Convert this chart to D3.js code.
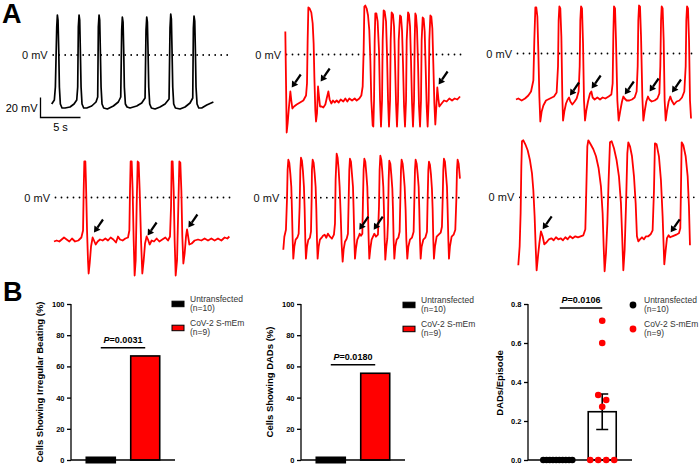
<!DOCTYPE html>
<html><head><meta charset="utf-8">
<script src="https://cdn.jsdelivr.net/npm/d3@7"></script>
<style>
body{margin:0;background:#fff}
svg{display:block;font-family:"Liberation Sans",Arial,Helvetica,sans-serif}
</style>
</head><body>
<svg width="700" height="468"></svg>
<script>
// ---------------- DATA ----------------
// Panel A traces: [time (s), membrane potential (mV)]
const traceControl = [[0,-49],[0.33,-45],[0.46,-32],[0.63,28],[0.71,40],[0.79,35],[0.88,5],[0.96,-32],[1.08,-49],[1.29,-53],[1.67,-53],[2.29,-52],[2.79,-49],[3.13,-45],[3.25,-32],[3.33,28],[3.42,40],[3.5,35],[3.58,5],[3.67,-32],[3.79,-49],[4.0,-53],[4.38,-53],[5.0,-51],[5.54,-47],[5.75,-42],[5.83,28],[5.92,40],[6.0,35],[6.08,5],[6.17,-32],[6.29,-49],[6.5,-53],[6.96,-54],[7.71,-51],[8.33,-47],[8.63,-42],[8.75,25],[8.83,38],[8.92,33],[9.0,5],[9.08,-32],[9.21,-49],[9.42,-52],[9.79,-53],[10.63,-51],[11.25,-48],[11.67,-43],[11.79,25],[11.88,38],[11.96,33],[12.04,5],[12.13,-32],[12.25,-49],[12.46,-53],[12.92,-54],[13.54,-52],[14.17,-49],[14.67,-44],[14.79,27],[14.88,41],[14.96,36],[15.04,5],[15.13,-32],[15.25,-49],[15.46,-53],[16.04,-54],[16.67,-52],[17.29,-48],[17.63,-43],[17.71,27],[17.79,39],[17.88,34],[17.96,5],[18.04,-32],[18.17,-49],[18.38,-53],[18.75,-53],[19.38,-50],[20.21,-47]];

const traceCov1 = [[0.04,23],[0.13,-29],[0.21,-78],[0.33,-69],[0.5,-52],[0.67,-37],[0.79,-46],[0.92,-54],[1.13,-52],[1.46,-50],[1.88,-48],[2.29,-46],[2.63,-41],[2.75,-29],[2.83,14],[2.92,47],[3.08,46],[3.29,42],[3.46,31],[3.58,11],[3.67,-22],[3.79,-56],[3.88,-67],[4.0,-59],[4.13,-32],[4.25,-42],[4.38,-52],[4.58,-52],[4.79,-53],[5.04,-50],[5.21,-44],[5.42,-37],[5.58,-45],[5.79,-49],[6.0,-46],[6.21,-48],[6.46,-46],[6.71,-48],[6.96,-45],[7.29,-47],[7.54,-44],[7.79,-47],[8.04,-44],[8.38,-46],[8.71,-44],[8.96,-46],[9.29,-44],[9.54,-41],[9.71,-32],[9.83,4],[9.92,48],[10.04,49],[10.21,46],[10.38,39],[10.54,24],[10.67,-6],[10.79,-46],[10.96,-71],[11.04,-72],[11.13,-46],[11.21,14],[11.29,41],[11.42,41],[11.58,33],[11.75,4],[11.88,-46],[12.0,-72],[12.13,-46],[12.21,14],[12.33,44],[12.46,43],[12.63,33],[12.75,1],[12.88,-46],[13.0,-72],[13.13,-46],[13.21,14],[13.33,42],[13.5,40],[13.63,28],[13.75,-6],[13.88,-49],[14.0,-72],[14.13,-46],[14.21,14],[14.38,39],[14.5,38],[14.63,24],[14.75,-9],[14.88,-52],[15.0,-72],[15.13,-46],[15.21,14],[15.38,42],[15.5,40],[15.63,28],[15.75,-6],[15.88,-49],[16.0,-72],[16.13,-46],[16.21,14],[16.29,41],[16.38,39],[16.5,26],[16.63,-9],[16.75,-52],[16.88,-72],[17.0,-46],[17.08,14],[17.21,37],[17.33,36],[17.46,23],[17.58,-12],[17.71,-52],[17.83,-72],[17.96,-46],[18.04,14],[18.17,39],[18.29,38],[18.42,26],[18.54,-9],[18.67,-49],[18.79,-70],[18.92,-52],[19.04,-33],[19.17,-44],[19.29,-52],[19.58,-49],[19.88,-46],[20.21,-47],[20.54,-44],[20.88,-46],[21.21,-44],[21.54,-45],[21.88,-42]];

const traceCov2 = [[0,-46],[0.29,-45],[0.71,-47],[1.13,-45],[1.54,-42],[1.88,-38],[2.17,-27],[2.29,13],[2.42,46],[2.54,46],[2.67,37],[2.79,3],[2.92,-43],[3.04,-68],[3.21,-58],[3.42,-52],[3.75,-47],[4.25,-45],[4.75,-43],[5.08,-39],[5.25,-13],[5.33,33],[5.42,47],[5.54,45],[5.67,17],[5.79,-43],[5.88,-67],[6.04,-58],[6.25,-50],[6.46,-46],[6.63,-44],[6.79,-48],[7.04,-51],[7.33,-48],[7.58,-45],[7.83,-38],[7.96,-13],[8.04,33],[8.13,47],[8.25,45],[8.38,10],[8.5,-47],[8.63,-67],[8.79,-57],[9.0,-48],[9.25,-40],[9.42,-38],[9.58,-44],[9.83,-46],[10.17,-44],[10.5,-46],[10.83,-44],[11.17,-45],[11.58,-43],[11.92,-41],[12.08,-30],[12.17,20],[12.25,47],[12.38,45],[12.5,13],[12.67,-47],[12.83,-67],[13.04,-57],[13.25,-48],[13.42,-43],[13.58,-45],[13.83,-47],[14.17,-47],[14.5,-46],[14.83,-44],[15.08,-38],[15.21,-13],[15.29,33],[15.38,48],[15.5,47],[15.63,17],[15.79,-43],[15.92,-67],[16.08,-58],[16.29,-48],[16.5,-43],[16.67,-46],[16.96,-48],[17.33,-47],[17.67,-45],[17.92,-40],[18.04,-13],[18.13,33],[18.21,47],[18.33,45],[18.46,13],[18.58,-47],[18.71,-67],[18.88,-57],[19.08,-48],[19.29,-43],[19.46,-47],[19.75,-51],[20.08,-48],[20.42,-47],[20.75,-44],[21.04,-38],[21.21,-13],[21.29,33],[21.38,47],[21.5,45],[21.63,13],[21.75,-47],[21.88,-65]];

const traceCov3 = [[0,-44],[0.33,-43],[0.67,-44],[0.96,-42],[1.25,-40],[1.58,-42],[1.92,-44],[2.25,-41],[2.63,-44],[3.04,-43],[3.42,-40],[3.63,-33],[3.71,7],[3.79,36],[3.92,36],[4.0,14],[4.13,-33],[4.25,-63],[4.33,-76],[4.46,-66],[4.63,-49],[4.83,-40],[5.0,-43],[5.21,-47],[5.46,-44],[5.75,-42],[6.08,-43],[6.42,-41],[6.75,-43],[7.08,-40],[7.42,-42],[7.75,-45],[8.0,-39],[8.25,-42],[8.58,-43],[8.92,-41],[9.25,-40],[9.42,-33],[9.5,7],[9.58,36],[9.71,36],[9.83,7],[9.96,-43],[10.08,-78],[10.21,-63],[10.33,-9],[10.46,36],[10.58,35],[10.71,7],[10.88,-43],[11.04,-76],[11.21,-63],[11.38,-46],[11.58,-39],[11.75,-42],[11.96,-47],[12.21,-43],[12.5,-44],[12.83,-41],[13.17,-44],[13.54,-42],[13.92,-40],[14.25,-43],[14.5,-39],[14.63,-9],[14.71,36],[14.83,36],[14.96,7],[15.08,-43],[15.21,-78],[15.38,-63],[15.54,-9],[15.67,36],[15.79,35],[15.92,7],[16.04,-39],[16.17,-66],[16.33,-56],[16.5,-39],[16.63,-32],[16.75,-38],[16.92,-47],[17.21,-46],[17.58,-43],[18.0,-42],[18.42,-43],[18.83,-41],[19.25,-43],[19.67,-41],[20.08,-43],[20.5,-41],[20.92,-43],[21.33,-40],[21.67,-41],[21.92,-39]];

const traceCov4 = [[0,-52],[0.13,-39],[0.33,-32],[0.46,-2],[0.54,28],[0.63,38],[0.75,35],[0.88,24],[1.0,11],[1.08,-12],[1.17,-42],[1.25,-61],[1.38,-49],[1.54,-42],[1.75,-40],[1.92,-36],[2.04,-9],[2.13,28],[2.21,40],[2.33,37],[2.46,26],[2.58,11],[2.67,-12],[2.75,-42],[2.83,-61],[2.96,-49],[3.13,-42],[3.33,-40],[3.46,-34],[3.54,-2],[3.58,28],[3.67,38],[3.79,35],[3.92,24],[4.04,11],[4.13,-12],[4.21,-42],[4.29,-61],[4.42,-49],[4.58,-42],[4.79,-40],[4.96,-38],[5.17,-37],[5.38,-40],[5.58,-36],[5.83,-39],[6.08,-41],[6.33,-37],[6.46,-26],[6.54,18],[6.67,44],[6.79,40],[6.92,28],[7.04,11],[7.17,-16],[7.29,-46],[7.42,-64],[7.54,-52],[7.71,-44],[7.92,-41],[8.08,-36],[8.17,-2],[8.25,28],[8.33,39],[8.46,36],[8.58,24],[8.71,11],[8.79,-12],[8.88,-42],[8.96,-61],[9.08,-51],[9.25,-42],[9.42,-39],[9.54,-36],[9.71,-38],[9.88,-36],[9.96,-2],[10.04,28],[10.13,39],[10.25,36],[10.38,24],[10.5,11],[10.58,-12],[10.67,-42],[10.75,-61],[10.88,-51],[11.04,-42],[11.21,-39],[11.38,-36],[11.58,-39],[11.83,-37],[11.96,-9],[12.04,28],[12.13,42],[12.25,38],[12.38,26],[12.5,11],[12.58,-12],[12.67,-42],[12.75,-62],[12.88,-49],[13.0,-41],[13.08,-26],[13.17,18],[13.25,37],[13.38,34],[13.5,23],[13.63,9],[13.71,-12],[13.79,-42],[13.88,-61],[14.0,-49],[14.17,-42],[14.38,-40],[14.54,-34],[14.63,-2],[14.71,28],[14.79,38],[14.92,34],[15.04,24],[15.17,11],[15.29,-12],[15.38,-42],[15.5,-61],[15.63,-49],[15.83,-42],[16.08,-40],[16.29,-34],[16.38,-2],[16.46,28],[16.54,38],[16.67,34],[16.79,24],[16.92,11],[17.0,-12],[17.08,-42],[17.17,-61],[17.29,-49],[17.5,-42],[17.75,-40],[17.96,-34],[18.04,-2],[18.13,28],[18.21,36],[18.33,33],[18.46,23],[18.58,9],[18.67,-12],[18.75,-42],[18.83,-61],[18.96,-49],[19.17,-39],[19.42,-37],[19.67,-35],[19.83,-29],[19.92,-2],[20.0,28],[20.08,39],[20.21,36],[20.33,24],[20.46,11],[20.54,-12],[20.63,-42],[20.71,-61],[20.83,-49],[21.04,-39],[21.29,-37],[21.5,-32],[21.63,-2],[21.71,28],[21.79,38],[21.92,34],[22.08,19]];

const traceCov5 = [[0,-68],[0.17,-49],[0.29,-16],[0.38,31],[0.46,56],[0.63,57],[0.88,53],[1.17,47],[1.46,37],[1.71,24],[1.88,7],[2.04,-19],[2.17,-49],[2.29,-73],[2.46,-59],[2.63,-46],[2.83,-34],[3.04,-39],[3.25,-47],[3.54,-45],[3.83,-42],[4.13,-41],[4.42,-43],[4.71,-40],[5.0,-42],[5.29,-41],[5.58,-43],[5.88,-40],[6.17,-42],[6.46,-39],[6.79,-41],[7.13,-39],[7.46,-40],[7.79,-39],[8.13,-38],[8.38,-32],[8.5,7],[8.63,51],[8.75,57],[9.04,53],[9.38,48],[9.71,41],[10.04,29],[10.33,11],[10.54,-16],[10.67,-49],[10.79,-74],[10.96,-56],[11.13,-26],[11.29,17],[11.46,55],[11.67,56],[11.96,49],[12.29,37],[12.58,21],[12.83,-6],[13.0,-43],[13.13,-73],[13.29,-53],[13.46,-9],[13.63,44],[13.75,55],[13.96,51],[14.21,41],[14.46,21],[14.67,-6],[14.83,-39],[15.0,-44],[15.21,-42],[15.46,-40],[15.71,-42],[15.96,-39],[16.25,-39],[16.54,-37],[16.79,-33],[16.96,7],[17.08,54],[17.29,53],[17.58,41],[17.83,17],[18.04,-19],[18.17,-49],[18.25,-67],[18.42,-53],[18.58,-41],[18.79,-38],[19.0,-40],[19.25,-39],[19.54,-38],[19.83,-37],[20.08,-36],[20.25,-31],[20.33,7],[20.42,55],[20.63,52],[20.92,41],[21.17,21],[21.33,-9],[21.46,-48]];

// DAD arrow targets [time (s), mV]
const dadArrowsCov1 = [[0.84,-33],[4.46,-27],[19.2,-30]];
const dadArrowsCov2 = [[6.75,-42],[9.46,-35],[13.6,-41],[16.7,-38],[19.5,-39]];
const dadArrowsCov3 = [[5.0,-35],[11.7,-38],[16.8,-30]];
const dadArrowsCov4 = [[9.5,-32],[11.3,-32]];
const dadArrowsCov5 = [[3.05,-32],[19.05,-35]];

// Panel B
const groups = ["Untransfected", "CoV-2 S-mEm"];
const groupN = ["(n=10)", "(n=9)"];
const groupColors = ["#000000", "#ff0000"];
const irregularBeatingPct = [0, 66.7];
const dadCellsPct = [0, 55.6];
const dadsPerEpisodeUntransfected = [0,0,0,0,0,0,0,0,0,0];
const dadsPerEpisodeCov = [0,0,0,0,0.273,0.308,0.333,0.6,0.714];
const pValues = ["0.0031", "0.0180", "0.0106"];
const pctTicks = [0,20,40,60,80,100];
const ratioTicks = [0,0.2,0.4,0.6,0.8];

// ---------------- DRAW ----------------
const svg = d3.select("svg");
const PX_PER_S = 8, PX_PER_MV = 1;

svg.append("text").attr("x",2).attr("y",23).attr("font-size",27).attr("font-weight","bold").text("A");
svg.append("text").attr("x",3).attr("y",301).attr("font-size",27).attr("font-weight","bold").text("B");

const traces = [
  {data: traceControl, color:"#000", left:51.7, zero:55,   arrows:[]},
  {data: traceCov1, color:"#ff0000", left:285,   zero:54.5, arrows:dadArrowsCov1},
  {data: traceCov2, color:"#ff0000", left:516,   zero:53.5, arrows:dadArrowsCov2},
  {data: traceCov3, color:"#ff0000", left:54,    zero:197.5, arrows:dadArrowsCov3},
  {data: traceCov4, color:"#ff0000", left:283.3, zero:197.7, arrows:dadArrowsCov4},
  {data: traceCov5, color:"#ff0000", left:518.3, zero:197.3, arrows:dadArrowsCov5}
];

traces.forEach((T, i) => {
  const g = svg.append("g");
  const x = d3.scaleLinear().domain([0,1]).range([T.left, T.left + PX_PER_S]);
  const y = d3.scaleLinear().domain([0,1]).range([T.zero, T.zero - PX_PER_MV]);
  g.append("line")
    .attr("x1", T.left + 1.5).attr("x2", Math.min(T.left + 178, 700))
    .attr("y1", y(0)).attr("y2", y(0))
    .attr("stroke","#000").attr("stroke-width",1.8)
    .attr("stroke-linecap","round").attr("stroke-dasharray","0,6");
  g.append("text").attr("x", T.left - 4).attr("y", y(0) + 4)
    .attr("text-anchor","end").attr("font-size",11).attr("fill","#111").text("0 mV");
  const line = d3.line().x(d => x(d[0])).y(d => y(d[1]));
  g.append("path").attr("d", line(T.data)).attr("fill","none")
    .attr("stroke", T.color).attr("stroke-width", i === 0 ? 1.7 : 1.8)
    .attr("stroke-linejoin","round");
  T.arrows.forEach(a => {
    const hx = x(a[0]), hy = y(a[1]);
    const tx = hx + 9, ty = hy - 13;
    const len = Math.hypot(hx - tx, hy - ty);
    const ux = (hx - tx)/len, uy = (hy - ty)/len;
    const px = -uy, py = ux;
    const bx = hx - ux*6, by = hy - uy*6;
    g.append("line").attr("x1",tx).attr("y1",ty).attr("x2",bx).attr("y2",by)
      .attr("stroke","#000").attr("stroke-width",2.2);
    g.append("path").attr("d", `M${hx},${hy}L${bx+px*3.7},${by+py*3.7}L${bx-px*3.7},${by-py*3.7}Z`)
      .attr("fill","#000");
  });
  if (i === 0) {
    const ox = 40.5, oy = 117.5;
    const w = x(5) - x(0), h = y(0) - y(20);
    g.append("path").attr("d", `M${ox},${oy - h}V${oy}H${ox + w}`)
      .attr("fill","none").attr("stroke","#000").attr("stroke-width",1.3);
    g.append("text").attr("x", ox - 3).attr("y", oy - h/2 + 4).attr("text-anchor","end")
      .attr("font-size",11).text("20 mV");
    g.append("text").attr("x", ox + w/2).attr("y", oy + 13).attr("text-anchor","middle")
      .attr("font-size",11).text("5 s");
  }
});

function drawYAxis(g, y, major, minor, fmt, left) {
  const ax = g.append("g").attr("transform",`translate(${left},0)`);
  ax.call(d3.axisLeft(y).tickValues(minor).tickSize(2.5).tickFormat(""));
  ax.call(d3.axisLeft(y).tickValues(major).tickSize(4).tickPadding(2.5).tickFormat(fmt));
  ax.selectAll("path,line").attr("stroke","#000").attr("stroke-width",1.3);
  ax.select(".domain").attr("d", `M0,${y.range()[0]}V${y.range()[1]}`);
  ax.selectAll("text").attr("font-size",7.5).attr("font-weight","bold").attr("fill","#000")
    .attr("font-family",'"Liberation Sans",Arial,sans-serif');
}
function drawTitle(g, txt, cx, cy) {
  g.append("text").attr("transform",`translate(${cx},${cy}) rotate(-90)`)
    .attr("text-anchor","middle").attr("font-size",9.5).attr("font-weight","bold").text(txt);
}
function drawSig(g, x1, x2, yy, p) {
  g.append("line").attr("x1",x1).attr("x2",x2).attr("y1",yy).attr("y2",yy)
    .attr("stroke","#000").attr("stroke-width",1.5);
  const t = g.append("text").attr("x",(x1+x2)/2).attr("y",yy-4.5).attr("text-anchor","middle")
    .attr("font-size",9).attr("font-weight","bold");
  t.append("tspan").attr("font-style","italic").text("P");
  t.append("tspan").text("=" + p);
}
function drawLegend(g, lx, ly, type) {
  groups.forEach((name, i) => {
    const oy = ly + i*24;
    if (type === "bar") {
      g.append("rect").attr("x",lx).attr("y",oy - 2.8).attr("width",12).attr("height",5.5)
        .attr("fill",groupColors[i]).attr("stroke","#000").attr("stroke-width",1);
    } else {
      g.append("circle").attr("cx",lx+5).attr("cy",oy).attr("r",3.4).attr("fill",groupColors[i]);
    }
    const tx = type === "bar" ? lx + 18 : lx + 16;
    g.append("text").attr("x",tx).attr("y",oy - 2).attr("font-size",8.5).attr("fill","#333").text(name);
    g.append("text").attr("x",tx).attr("y",oy + 7).attr("font-size",8.5).attr("fill","#333").text(groupN[i]);
  });
}

const pctMinor = d3.range(10, 100, 20);
const ratioMinor = [0.1,0.3,0.5,0.7];

const barCharts = [
  {vals: irregularBeatingPct, title:"Cells Showing Irregular Beating (%)", left:71, right:175, titleX:43, sig:72, p:pValues[0], legX:172, legY:304},
  {vals: dadCellsPct, title:"Cells Showing DADs (%)", left:301, right:405, titleX:273, sig:61, p:pValues[1], legX:403, legY:305}
];
barCharts.forEach(C => {
  const g = svg.append("g");
  const y = d3.scaleLinear().domain([0,100]).range([460,304]);
  const x = d3.scalePoint().domain(groups).range([C.left, C.right]).padding(0.67);
  C.vals.forEach((v, i) => {
    const cx = x(groups[i]);
    let top = y(v), h = y(0) - y(v);
    if (h < 2) { top = y(0) - 2.7; h = 5.4; }
    g.append("rect").attr("x",cx - 14.5).attr("y",top).attr("width",29).attr("height",h)
      .attr("fill",groupColors[i]).attr("stroke","#000").attr("stroke-width",1.6);
  });
  drawYAxis(g, y, pctTicks, pctMinor, d3.format("d"), C.left);
  g.append("line").attr("x1",C.left).attr("x2",C.right).attr("y1",y(0)).attr("y2",y(0))
    .attr("stroke","#000").attr("stroke-width",1.3);
  drawTitle(g, C.title, C.titleX, 382);
  drawSig(g, x(groups[0]), x(groups[1]), y(C.sig), C.p);
  drawLegend(g, C.legX, C.legY, "bar");
});

(function(){
  const g = svg.append("g");
  const left = 528, right = 632;
  const y = d3.scaleLinear().domain([0,0.8]).range([460,304]);
  const x = d3.scalePoint().domain(groups).range([left, right]).padding(0.67);
  const sets = [dadsPerEpisodeUntransfected, dadsPerEpisodeCov];
  const cov = dadsPerEpisodeCov;
  const m = d3.mean(cov), sem = d3.deviation(cov) / Math.sqrt(cov.length);
  const cx1 = x(groups[1]);
  g.append("rect").attr("x",cx1 - 14).attr("y",y(m)).attr("width",28).attr("height",y(0)-y(m))
    .attr("fill","#fff").attr("stroke","#000").attr("stroke-width",1.6);
  g.append("path").attr("d",
    `M${cx1},${y(m+sem)}V${y(m-sem)}M${cx1-6},${y(m+sem)}H${cx1+6}M${cx1-6},${y(m-sem)}H${cx1+6}`)
    .attr("stroke","#000").attr("stroke-width",1.6).attr("fill","none");
  drawYAxis(g, y, ratioTicks, ratioMinor, d3.format(".1f"), left);
  g.append("line").attr("x1",left).attr("x2",right).attr("y1",y(0)).attr("y2",y(0))
    .attr("stroke","#000").attr("stroke-width",1.3);
  const r = 3.3;
  sets.forEach((vals, gi) => {
    const cx = x(groups[gi]);
    const sorted = vals.slice().sort((a,b)=>a-b);
    const placed = [];
    const counts = d3.rollup(sorted, v => v.length, d => d);
    const seen = new Map();
    sorted.forEach(v => {
      const n = counts.get(v);
      let px;
      if (n > 1) {
        const k = seen.get(v) || 0; seen.set(v, k+1);
        const sp = Math.min(8, 29/(n-1));
        px = cx + (k - (n-1)/2) * sp;
      } else {
        const py = y(v);
        const cands = [0,4,-4,8,-8,12,-12];
        px = cx;
        for (const c of cands) {
          const ok = placed.every(p => Math.hypot(p[0]-(cx+c), p[1]-py) >= 7);
          if (ok) { px = cx + c; break; }
        }
      }
      placed.push([px, y(v)]);
      g.append("circle").attr("cx",px).attr("cy",y(v)).attr("r",r).attr("fill",groupColors[gi]);
    });
  });
  drawTitle(g, "DADs/Episode", 503, 383);
  drawSig(g, x(groups[0]) + 2, x(groups[1]), y(0.78), pValues[2]);
  drawLegend(g, 628, 305, "dot");
})();
</script>
</body></html>
